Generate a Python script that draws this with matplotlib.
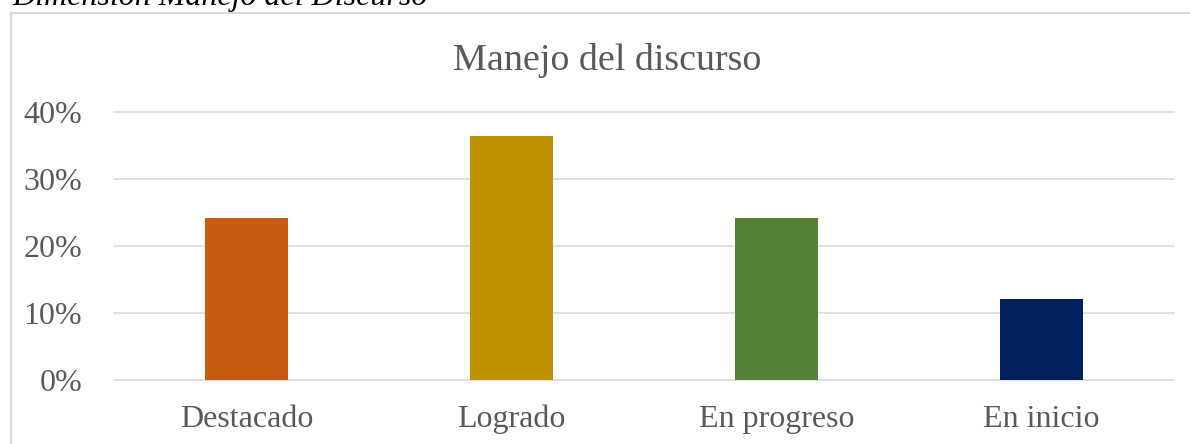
import numpy as np
import matplotlib
matplotlib.use("Agg")
import matplotlib.pyplot as plt
from matplotlib.patches import Rectangle

categorias = ["Destacado", "Logrado", "En progreso", "En inicio"]
valores = [0.2424, 0.3636, 0.2424, 0.1212]
colores = ["#C55A11", "#BF9000", "#538135", "#002060"]
ticks_y = [0.0, 0.1, 0.2, 0.3, 0.4]
etiquetas_y = ["0%", "10%", "20%", "30%", "40%"]

plt.rcParams['font.family'] = ['Liberation Serif', 'DejaVu Serif']

fig = plt.figure(figsize=(11.9, 4.44), dpi=100)
ax = fig.add_axes([114 / 1190, 64 / 444, 1060 / 1190, 268 / 444])

x = np.arange(len(categorias))
ax.bar(x, valores, width=0.315, color=colores, zorder=3)

ax.set_xlim(-0.5, 3.5)
ax.set_ylim(0, 0.4)
ax.set_yticks(ticks_y)
ax.set_yticklabels(etiquetas_y)
ax.set_xticks(x)
ax.set_xticklabels(categorias)
ax.tick_params(axis='both', length=0, labelsize=23, colors="#595959")
ax.tick_params(axis='x', pad=34)
ax.tick_params(axis='y', pad=23)
for lbl in ax.get_xticklabels():
    lbl.set_verticalalignment('baseline')
ax.grid(axis='y', color="#d9d9d9", lw=1.2, zorder=0)
for g in ax.get_ygridlines():
    g.set_clip_on(False)
for s in ax.spines.values():
    s.set_visible(False)

# marco del grafico
fig.patches.append(Rectangle((11 / 1190, -0.1), 1.2, (444 - 13) / 444 + 0.1,
                             transform=fig.transFigure, fill=False,
                             edgecolor="#d9d9d9", lw=1.5))

fig.text(607 / 1190, 1 - 70 / 444, "Manejo del discurso", ha='center',
         va='baseline', fontsize=27.4, color="#595959")
fig.text(12 / 1190, 1 - 5 / 444, "Dimensión Manejo del Discurso", ha='left',
         va='baseline', fontsize=23, style='italic', color="black")

fig.savefig("out.png", dpi=100)
